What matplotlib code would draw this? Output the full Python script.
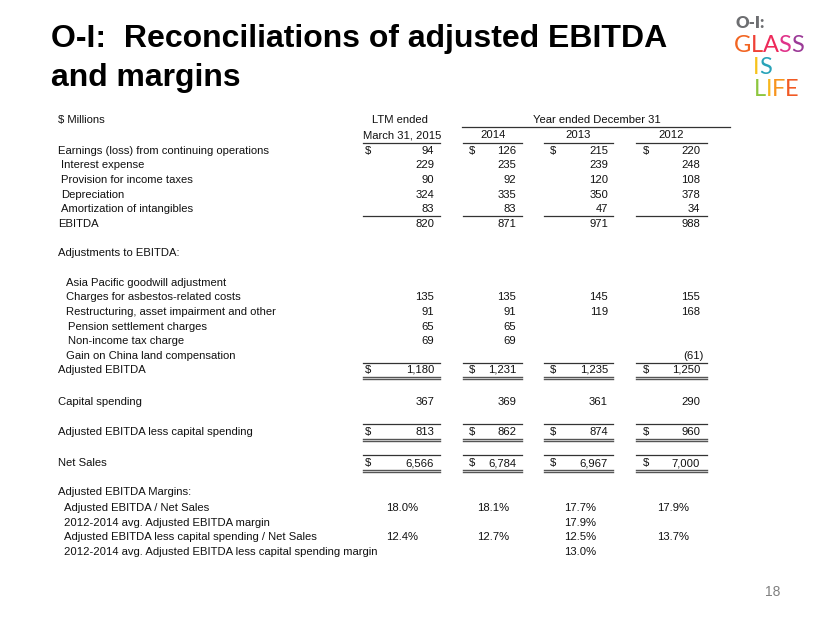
import matplotlib
matplotlib.use("Agg")
import matplotlib.pyplot as plt

plt.rcParams['font.family'] = ['Liberation Sans', 'DejaVu Sans']

# column headers
col_years = ["2014", "2013", "2012"]

# table values, one entry per column: LTM Mar-2015, 2014, 2013, 2012
earnings = [94, 126, 215, 220]
interest = [229, 235, 239, 248]
taxes = [90, 92, 120, 108]
depreciation = [324, 335, 350, 378]
amortization = [83, 83, 47, 34]
ebitda = [820, 871, 971, 988]
asia_pacific = [None, None, None, None]
asbestos = [135, 135, 145, 155]
restructuring = [91, 91, 119, 168]
pension = [65, 65, None, None]
non_income_tax = [69, 69, None, None]
china_land = [None, None, None, -61]
adj_ebitda = [1180, 1231, 1235, 1250]
capex = [367, 369, 361, 290]
adj_less_capex = [813, 862, 874, 960]
net_sales = [6566, 6784, 6967, 7000]

margin = [18.0, 18.1, 17.7, 17.9]
avg_margin = [None, None, 17.9, None]
margin_less_capex = [12.4, 12.7, 12.5, 13.7]
avg_margin_less_capex = [None, None, 13.0, None]

# layout (pixel space)
dollar_x = [365, 469, 550, 643]
right_x = [434, 516, 608, 700]
line_x = [(363, 440), (463, 522), (544, 613), (636, 707)]
pct_x = [386, 477, 564, 657]

fig = plt.figure(figsize=(8.3, 6.23), dpi=100)
ax = fig.add_axes([0, 0, 1, 1])
ax.set_xlim(0, 830)
ax.set_ylim(623, 0)
ax.axis("off")

FS = 8.1
TXT = "#111111"

# title
ax.text(51, 47, "O-I:  Reconciliations of adjusted EBITDA", fontsize=23,
        fontweight="bold", color="black", va="baseline")
ax.text(51, 86, "and margins", fontsize=23, fontweight="bold",
        color="black", va="baseline")

# logo
ax.text(735, 23, "O-I:", fontsize=12, fontweight="heavy", color="#6d6e71",
        va="center", ha="left", family="Lato")
logo_rows = [
    ("GLASS", 734, 45, ["#f26522", "#ef4136", "#ee2a5a", "#e0338a", "#9b3a97"]),
    ("IS", 753, 67, ["#f7c21b", "#29a3b8"]),
    ("LIFE", 754, 89, ["#8dc63f", "#f7b71d", "#f7941d", "#f15a24"]),
]
for word, x0, y0, colors in logo_rows:
    x = x0
    for ch, c in zip(word, colors):
        t = ax.text(x, y0, ch, fontsize=17, color=c, va="center", ha="left",
                    family="Lato")
        fig.canvas.draw()
        bb = t.get_window_extent()
        x += bb.width * 830 / fig.bbox.width * 0.98


def label(y, s, x=58):
    ax.text(x, y, s, fontsize=FS, color=TXT, va="center", ha="left")


def values(y, vals, dollar=False):
    for i, v in enumerate(vals):
        if v is None:
            continue
        s = f"{v:,}" if v >= 0 else f"({-v:,})"
        xr = right_x[i] + (4 if v < 0 else 0)
        ax.text(xr, y, s, fontsize=FS, color=TXT, va="center", ha="right")
        if dollar:
            ax.text(dollar_x[i], y, "$", fontsize=FS, color=TXT,
                    va="center", ha="left")


def rule(y, double=False):
    for x0, x1 in line_x:
        if double:
            ax.plot([x0, x1], [y, y], color="#555555", lw=1.0)
            ax.plot([x0, x1], [y + 2.2, y + 2.2], color="#555555", lw=1.0)
        else:
            ax.plot([x0, x1], [y, y], color="#333333", lw=0.9)


def pcts(y, vals):
    for i, v in enumerate(vals):
        if v is None:
            continue
        ax.text(pct_x[i], y, f"{v:.1f}%", fontsize=FS, color=TXT,
                va="center", ha="left")


# headers
label(120, "$ Millions")
ax.text(400, 120, "LTM ended", fontsize=FS, color=TXT, va="center", ha="center")
ax.text(402, 135, "March 31, 2015", fontsize=FS, color=TXT, va="center",
        ha="center")
ax.text(597, 120, "Year ended December 31", fontsize=FS, color=TXT,
        va="center", ha="center")
ax.plot([462, 730], [127, 127], color="#333333", lw=0.9)
for (x0, x1), yr in zip(line_x[1:], col_years):
    ax.text((x0 + x1) / 2, 135, yr, fontsize=FS, color=TXT, va="center",
            ha="center")
rule(143)

# body
label(151, "Earnings (loss) from continuing operations")
values(151, earnings, dollar=True)
label(165, "Interest expense", 61)
values(165, interest)
label(180, "Provision for income taxes", 61)
values(180, taxes)
label(195, "Depreciation", 61)
values(195, depreciation)
label(209, "Amortization of intangibles", 61)
values(209, amortization)
rule(216)
label(224, "EBITDA")
values(224, ebitda)

label(253, "Adjustments to EBITDA:")
label(283, "Asia Pacific goodwill adjustment", 66)
values(283, asia_pacific)
label(297, "Charges for asbestos-related costs", 66)
values(297, asbestos)
label(312, "Restructuring, asset impairment and other", 66)
values(312, restructuring)
label(327, "Pension settlement charges", 68)
values(327, pension)
label(341, "Non-income tax charge", 68)
values(341, non_income_tax)
label(356, "Gain on China land compensation", 66)
values(356, china_land)
rule(363)
label(370, "Adjusted EBITDA")
values(370, adj_ebitda, dollar=True)
rule(377, double=True)

label(402, "Capital spending")
values(402, capex)

rule(424)
label(432, "Adjusted EBITDA less capital spending")
values(432, adj_less_capex, dollar=True)
rule(439, double=True)

rule(455)
label(463, "Net Sales")
values(463, net_sales, dollar=True)
rule(470, double=True)

label(492, "Adjusted EBITDA Margins:")
label(508, "Adjusted EBITDA / Net Sales", 64)
pcts(508, margin)
label(523, "2012-2014 avg. Adjusted EBITDA margin", 64)
pcts(523, avg_margin)
label(537, "Adjusted EBITDA less capital spending / Net Sales", 64)
pcts(537, margin_less_capex)
label(552, "2012-2014 avg. Adjusted EBITDA less capital spending margin", 64)
pcts(552, avg_margin_less_capex)

# page number
ax.text(780, 592, "18", fontsize=10, color="#808080", va="center", ha="right")

fig.savefig("out.png", dpi=100)
